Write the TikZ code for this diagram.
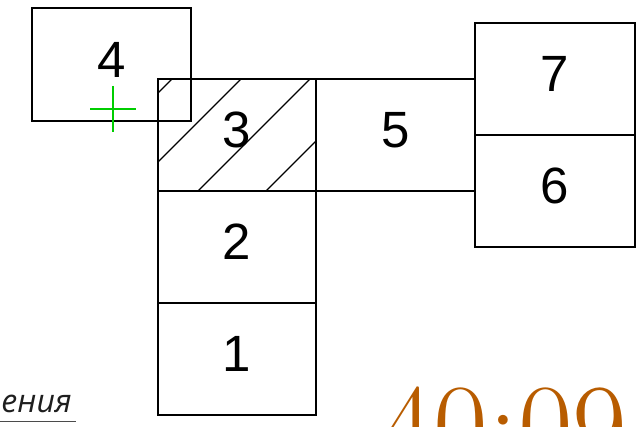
\documentclass[tikz,border=0pt]{standalone}
\usepackage{fontspec}
\newfontfamily\roomfont{Liberation Sans}
\newfontfamily\notefont{Open Sans}
\definecolor{clockorange}{RGB}{184,92,0}
\definecolor{markgreen}{RGB}{0,205,0}
\definecolor{notegray}{RGB}{30,30,30}

\begin{document}
\begin{tikzpicture}[x=1pt, y=-1pt,
        room/.style={draw, line width=1.6pt, inner sep=0pt, outer sep=0pt,
            minimum width=159pt, minimum height=112pt, text depth=10pt,
            font={\roomfont\fontsize{51}{51}\selectfont}},
        hatched/.style={path picture={
            \foreach \d in {14,83,152,220}
                \draw[hatchline] (path picture bounding box.north west) ++(\d,0) -- ++(-150,150);
        }},
        hatchline/.style={line width=1.1pt},
        markline/.style={draw=markgreen, line width=1.2pt},
        notetext/.style={inner sep=0pt, text=notegray, font={\notefont\itshape\fontsize{32}{32}\selectfont}},
        clocktext/.style={inner sep=0pt, text=clockorange, font={\fontsize{119}{119}\selectfont}},
    ]
    \useasboundingbox (0,0) rectangle (637,427);
    \clip (0,0) rectangle (637,427);
    % rooms
    \node[room, minimum height=113pt](r4) at (111.5,64.5){4};
    \node[room, hatched, minimum width=158pt](r3) at (237,135){3};
    \node[room, minimum width=158pt](r2) at (237,247){2};
    \node[room, minimum width=158pt](r1) at (237,359){1};
    \node[room](r5) at (395.5,135){5};
    \node[room, minimum width=160pt](r7) at (555,79){7};
    \node[room, minimum width=160pt](r6) at (555,191){6};
    % insertion mark
    \coordinate (mark) at (113,109);
    \draw[markline] (mark) ++(-23,0) -- ++(46,0) (mark) ++(0,-23) -- ++(0,46);
    % leftovers at the bottom
    \node[notetext, anchor=base east](note) at (72,412){ения};
    \draw[draw=notegray!80, line width=0.9pt] (0,421.5) -- (76,421.5);
    \node[clocktext, anchor=base west](clock) at (379,466){40:09};
\end{tikzpicture}
\end{document}
